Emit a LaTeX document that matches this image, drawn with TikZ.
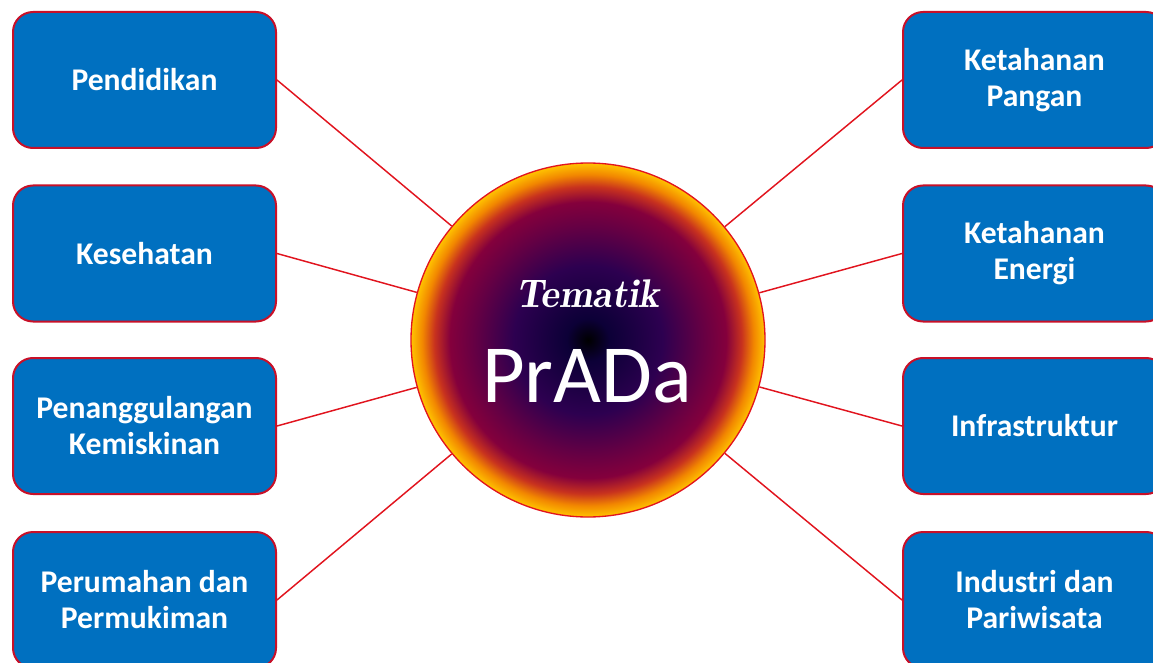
\documentclass[tikz,border=0pt]{standalone}
\usepackage{fontspec}
\setmainfont{Carlito}
\usetikzlibrary{shapes.geometric}
\definecolor{boxblue}{RGB}{0,112,192}
\definecolor{boxborder}{RGB}{200,16,40}
\definecolor{linered}{RGB}{225,20,30}
\definecolor{sA}{RGB}{0,0,0}
\definecolor{sB}{RGB}{12,0,55}
\definecolor{sC}{RGB}{45,0,80}
\definecolor{sD}{RGB}{100,0,68}
\definecolor{sE}{RGB}{132,0,60}
\definecolor{sF}{RGB}{200,50,30}
\definecolor{sG}{RGB}{242,135,0}
\definecolor{sH}{RGB}{255,195,0}
\pgfdeclareradialshading{sun}{\pgfpoint{0bp}{0bp}}{%
color(0bp)=(sA); color(3bp)=(sB); color(10.5bp)=(sC); color(16bp)=(sD);
color(19.5bp)=(sE); color(21.7bp)=(sF); color(23.4bp)=(sG); color(25bp)=(sH); color(50bp)=(sH)}
\tikzset{
  topic/.style={draw=boxborder, line width=1.5pt, fill=boxblue, rounded corners=15pt,
    minimum width=197.25pt, minimum height=102pt, align=center, text=white,
    font=\fontsize{23.7}{27}\selectfont\bfseries},
  conn/.style={draw=linered, line width=1.1pt},
  hub/.style={circle, draw=linered, line width=1pt, shading=sun, minimum size=265.5pt, inner sep=0pt}
}
\begin{document}
\begin{tikzpicture}[x=0.75pt,y=-0.75pt]
\useasboundingbox (0,0) rectangle (1153,663);
\clip (0,0) rectangle (1153,663);
\node[hub] (c) at (588,340) {};
\node[topic] (b1) at (144.5,80) {Pendidikan};
\node[topic] (b2) at (144.5,253.5) {Kesehatan};
\node[topic] (b3) at (144.5,426) {Penanggulangan\\Kemiskinan};
\node[topic] (b4) at (144.5,600) {Perumahan dan\\Permukiman};
\node[topic] (b5) at (1034.5,80) {Ketahanan\\Pangan};
\node[topic] (b6) at (1034.5,253.5) {Ketahanan\\Energi};
\node[topic] (b7) at (1034.5,426) {Infrastruktur};
\node[topic] (b8) at (1034.5,600) {Industri dan\\Pariwisata};
\foreach \b in {b1,b2,b3,b4}{\draw[conn] (\b.east) -- (c);}
\foreach \b in {b5,b6,b7,b8}{\draw[conn] (\b.west) -- (c);}
\node[text=white, anchor=base, font=\fontfamily{lmr}\fontsize{30}{30}\selectfont\bfseries\itshape] (t) at (588,307) {Tematik};
\node[text=white, anchor=base, font=\fontsize{62}{62}\selectfont] (p) at (587,402) {PrADa};
\end{tikzpicture}
\end{document}
